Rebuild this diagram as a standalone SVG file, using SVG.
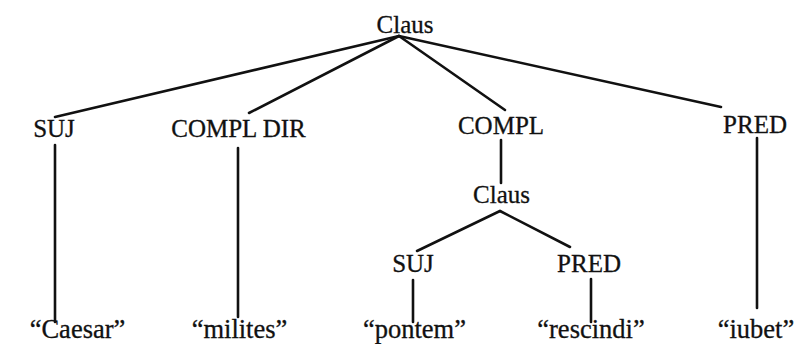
<svg xmlns="http://www.w3.org/2000/svg" width="795" height="344" viewBox="0 0 795 344">
<style>
text{font-family:"Liberation Serif","Times New Roman",serif;font-size:25px;fill:#111;stroke:#111;stroke-width:0.3;text-anchor:middle}
.leaf{font-size:26.5px}
.e{stroke:#111;stroke-width:2.6;fill:none;stroke-linecap:round}
</style>
<rect width="795" height="344" fill="#fff"/>
<g id="connectors">
<line class="e" x1="399" y1="36" x2="55" y2="117"/>
<line class="e" x1="399" y1="36" x2="249" y2="113"/>
<line class="e" x1="399" y1="36" x2="505" y2="110"/>
<line class="e" x1="399" y1="36" x2="721" y2="107"/>
<line class="e" x1="55" y1="145" x2="55" y2="322"/>
<line class="e" x1="238" y1="148" x2="238" y2="317"/>
<line class="e" x1="501" y1="140" x2="501" y2="183"/>
<line class="e" x1="757" y1="138" x2="757" y2="308"/>
<line class="e" x1="500" y1="211" x2="417" y2="251"/>
<line class="e" x1="500" y1="211" x2="570" y2="247"/>
<line class="e" x1="413" y1="280" x2="413" y2="322"/>
<line class="e" x1="591" y1="279" x2="591" y2="322"/>
</g>
<g id="claus-root"><text x="405" y="33">Claus</text></g>
<g id="suj"><text x="54" y="137">SUJ</text></g>
<g id="compl-dir"><text x="238.5" y="137">COMPL DIR</text></g>
<g id="compl"><text x="501" y="134">COMPL</text></g>
<g id="pred"><text x="755" y="133">PRED</text></g>
<g id="claus-sub"><text x="501.5" y="203">Claus</text></g>
<g id="suj-sub"><text x="413" y="272">SUJ</text></g>
<g id="pred-sub"><text x="589" y="272">PRED</text></g>
<g id="caesar"><text class="leaf" x="77.5" y="338">“Caesar”</text></g>
<g id="milites"><text class="leaf" x="239.5" y="338">“milites”</text></g>
<g id="pontem"><text class="leaf" x="414.5" y="338">“pontem”</text></g>
<g id="rescindi"><text class="leaf" x="591" y="338">“rescindi”</text></g>
<g id="iubet"><text class="leaf" x="756" y="338">“iubet”</text></g>
</svg>
